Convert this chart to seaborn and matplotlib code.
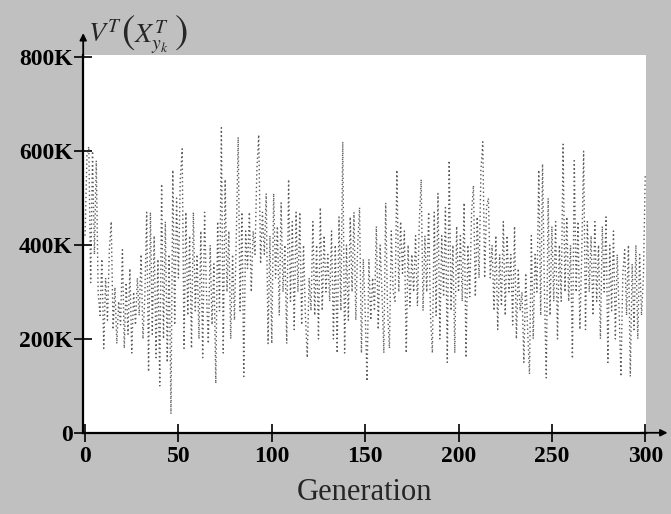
import numpy as np
import pandas as pd
import matplotlib
matplotlib.use('Agg')
import matplotlib.pyplot as plt
import seaborn as sns

# values of V^T, in thousands, one per generation 0..300
vt_k = [
    420, 590, 610, 320, 600, 380, 580, 300, 250, 370,
    180, 330, 240, 390, 450, 220, 310, 190, 280, 230,
    390, 180, 320, 210, 350, 170, 300, 230, 330, 250,
    380, 200, 290, 470, 130, 470, 210, 420, 160, 370,
    100, 530, 200, 450, 150, 380, 40, 560, 230, 500,
    330, 540, 605, 180, 470, 250, 420, 180, 470, 260,
    380, 200, 430, 160, 470, 300, 190, 400, 230, 360,
    105, 450, 260, 650, 170, 540, 300, 430, 200, 380,
    240, 420, 630, 260, 470, 120, 430, 350, 470, 300,
    430, 380, 560, 635, 360, 470, 380, 510, 190, 420,
    190, 510, 330, 440, 250, 490, 300, 400, 190, 540,
    280, 450, 220, 470, 300, 470, 230, 400, 250, 160,
    330, 260, 450, 250, 400, 200, 480, 260, 420, 300,
    380, 280, 430, 200, 400, 170, 460, 260, 620, 170,
    400, 240, 460, 300, 470, 240, 400, 480, 170, 370,
    260, 110, 370, 240, 330, 260, 440, 220, 400, 300,
    170, 490, 260, 180, 430, 300, 280, 560, 300, 450,
    340, 430, 170, 400, 270, 380, 300, 420, 270, 450,
    540, 260, 420, 300, 470, 250, 170, 470, 250, 510,
    200, 420, 290, 480, 150, 580, 260, 400, 170, 440,
    300, 420, 280, 490, 160, 400, 290, 470, 527, 290,
    460, 330, 560, 620, 330, 480, 500, 330, 400, 260,
    420, 220, 380, 270, 450, 250, 420, 300, 380, 230,
    440, 200, 350, 260, 300, 150, 340, 220, 125, 420,
    200, 380, 300, 560, 250, 573, 300, 117, 500, 250,
    440, 280, 450, 200, 400, 280, 615, 300, 460, 280,
    400, 158, 580, 300, 450, 220, 380, 600, 220, 450,
    300, 420, 250, 450, 280, 400, 200, 440, 300, 460,
    150, 400, 260, 430, 200, 380, 260, 120, 340, 390,
    250, 400, 120, 360, 220, 400, 200, 380, 250, 330,
    548,
]
generation = list(range(len(vt_k)))

x_ticks = [0, 50, 100, 150, 200, 250, 300]
y_ticks = [0, 200000, 400000, 600000, 800000]
y_tick_labels = ['0', '200K', '400K', '600K', '800K']

df = pd.DataFrame({'generation': generation, 'vt': np.array(vt_k) * 1000})

sns.set_style('white')
plt.rcParams['font.family'] = ['Liberation Serif', 'DejaVu Serif']
plt.rcParams['mathtext.fontset'] = 'stix'

W, H = 671, 514
fig = plt.figure(figsize=(6.71, 5.14), dpi=100, facecolor='#c0c0c0')
ax = fig.add_axes([0.124, 0.158, 0.839, 0.735])
ax.set_facecolor('white')

sns.lineplot(data=df, x='generation', y='vt', ax=ax, color='#333333',
             linewidth=1.0, linestyle=(0, (1, 2)), alpha=0.8)

ax.set_xlim(-1, 300.5)
ax.set_ylim(0, 805000)
ax.set_xticks(x_ticks)
ax.set_xticklabels([str(t) for t in x_ticks])
ax.set_yticks(y_ticks)
ax.set_yticklabels(y_tick_labels)
ax.tick_params(bottom=True, left=True, direction='inout', length=13,
               width=1.2, colors='black', labelsize=17)
ax.tick_params(axis='x', pad=3)
ax.tick_params(axis='y', pad=1)
for lab in ax.get_xticklabels() + ax.get_yticklabels():
    lab.set_fontweight('bold')

for s in ['top', 'right']:
    ax.spines[s].set_visible(False)
for s in ['left', 'bottom']:
    ax.spines[s].set_linewidth(1.6)
    ax.spines[s].set_color('black')

# arrow heads past the ends of the axes
ax.annotate('', xy=(0, 1.058), xytext=(0, 0.99), xycoords='axes fraction',
            arrowprops=dict(arrowstyle='-|>', color='black', lw=1.3,
                            mutation_scale=10, shrinkA=0, shrinkB=0))
ax.annotate('', xy=(1.038, 0), xytext=(0.99, 0), xycoords='axes fraction',
            arrowprops=dict(arrowstyle='-|>', color='black', lw=1.3,
                            mutation_scale=10, shrinkA=0, shrinkB=0))

ax.set_xlabel('Generation', fontsize=22, labelpad=8)
ax.set_ylabel('')

# y label with big brackets, built from pieces
fig.text(88 / W, 1 - 42 / H, r'$V^{T}$', fontsize=20, va='baseline')
fig.text(121 / W, 1 - 43 / H, r'$($', fontsize=29, va='baseline')
fig.text(134 / W, 1 - 42 / H, r'$X^{T}_{y_k}$', fontsize=20, va='baseline')
fig.text(174 / W, 1 - 43 / H, r'$)$', fontsize=29, va='baseline')

plt.savefig('out.png', dpi=100, facecolor=fig.get_facecolor())
